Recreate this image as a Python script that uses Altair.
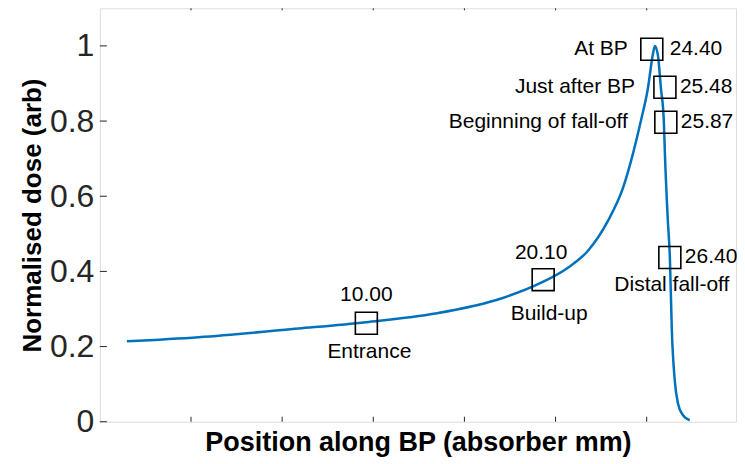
import altair as alt
import pandas as pd

# Bragg curve (depth in mm, normalised dose)
depth_mm = [-3.52, 0.42, 5.90, 9.60, 13.40, 17.02, 19.21, 20.68, 21.78, 22.88,
            23.70, 24.24, 24.68, 25.07, 25.34, 25.45, 25.61, 25.78, 25.94, 26.00,
            26.16, 26.27, 26.38, 26.54, 26.71, 26.98, 27.36]
dose = [0.214, 0.225, 0.248, 0.265, 0.288, 0.328, 0.370, 0.410, 0.455, 0.535,
        0.622, 0.712, 0.800, 0.888, 0.978, 1.000, 0.977, 0.888, 0.800, 0.712,
        0.535, 0.440, 0.243, 0.110, 0.050, 0.018, 0.004]

# Marked positions
point_names = ["Entrance", "Build-up", "At BP", "Just after BP",
               "Beginning of fall-off", "Distal fall-off"]
point_values = ["10.00", "20.10", "24.40", "25.48", "25.87", "26.40"]
point_x = [9.62, 19.32, 25.28, 26.00, 26.05, 26.27]
point_y = [0.262, 0.378, 0.991, 0.890, 0.797, 0.437]

y_ticks = [0, 0.2, 0.4, 0.6, 0.8, 1.0]
x_ticks = [0, 5, 10, 15, 20, 25]

X_DOMAIN = [-5, 29.9]
Y_DOMAIN = [0, 1.1]
W, H = 637, 414

curve_df = pd.DataFrame({"x": depth_mm, "y": dose})
pts_df = pd.DataFrame({"x": point_x, "y": point_y,
                       "name": point_names, "value": point_values})

xs = alt.Scale(domain=X_DOMAIN, nice=False, zero=False)
ys = alt.Scale(domain=Y_DOMAIN, nice=False, zero=False)

x_enc = alt.X("x:Q", scale=xs,
              axis=alt.Axis(title="Position along BP (absorber mm)", labels=False,
                            ticks=False, domain=False, grid=False,
                            titleFontSize=27, titleFontWeight="bold",
                            titleColor="#000000", titleFont="Liberation Sans",
                            titlePadding=8))
y_enc = alt.Y("y:Q", scale=ys,
              axis=alt.Axis(title="Normalised dose (arb)", values=y_ticks, format="~g",
                            ticks=False, domain=False, grid=False,
                            labelFontSize=32, labelColor="#262626",
                            labelFont="Liberation Sans", labelPadding=6,
                            titleFontSize=26, titleFontWeight="bold",
                            titleColor="#000000", titleFont="Liberation Sans",
                            titlePadding=4))

curve = alt.Chart(curve_df).mark_line(
    color="#0072BD", strokeWidth=2.5, interpolate="monotone"
).encode(x=x_enc, y=y_enc)

# inward ticks (MATLAB style)
ytick_df = pd.DataFrame({"y": y_ticks})
xtick_df = pd.DataFrame({"x": x_ticks})
ytick = alt.Chart(ytick_df).mark_rule(color="#262626", strokeWidth=1).encode(
    y=alt.Y("y:Q", scale=ys), x=alt.value(0), x2=alt.value(7))
xtick = alt.Chart(xtick_df).mark_rule(color="#262626", strokeWidth=1).encode(
    x=alt.X("x:Q", scale=xs), y=alt.value(H - 5), y2=alt.value(H))
xtick_top = alt.Chart(xtick_df).mark_rule(color="#262626", strokeWidth=1).encode(
    x=alt.X("x:Q", scale=xs), y=alt.value(0), y2=alt.value(2))

boxes = alt.Chart(pts_df).mark_point(
    shape="square", size=484, filled=False, color="black", strokeWidth=1.6, opacity=1
).encode(x=alt.X("x:Q", scale=xs), y=alt.Y("y:Q", scale=ys))

# label placement (style only): (dx, dy, align) for name and value labels
name_place = [(3, 29, "center"), (6, 34, "center"), (-24, 0, "right"),
              (-30, 0, "right"), (-38, 0, "right"), (2, 28, "center")]
value_place = [(0, -28, "center"), (-2, -27, "center"), (18, 0, "left"),
               (15, 0, "left"), (15, 0, "left"), (15, 0, "left")]

labels = []
for i in range(len(point_names)):
    row = pts_df.iloc[[i]]
    for field, (dx, dy, al) in (("name", name_place[i]), ("value", value_place[i])):
        labels.append(
            alt.Chart(row).mark_text(
                dx=dx, dy=dy, align=al, baseline="middle", fontSize=21,
                font="Liberation Sans", color="black"
            ).encode(x=alt.X("x:Q", scale=xs), y=alt.Y("y:Q", scale=ys),
                     text=f"{field}:N")
        )

chart = alt.layer(curve, ytick, xtick, xtick_top, boxes, *labels).properties(
    width=W, height=H,
    autosize=alt.AutoSizeParams(type="none"),
    padding={"left": 92, "top": 0, "right": 1, "bottom": 40},
).configure_view(stroke="#262626", strokeWidth=1.2).configure(background="white")

chart.save("out.html", embed_options={"renderer": "svg", "actions": False})
